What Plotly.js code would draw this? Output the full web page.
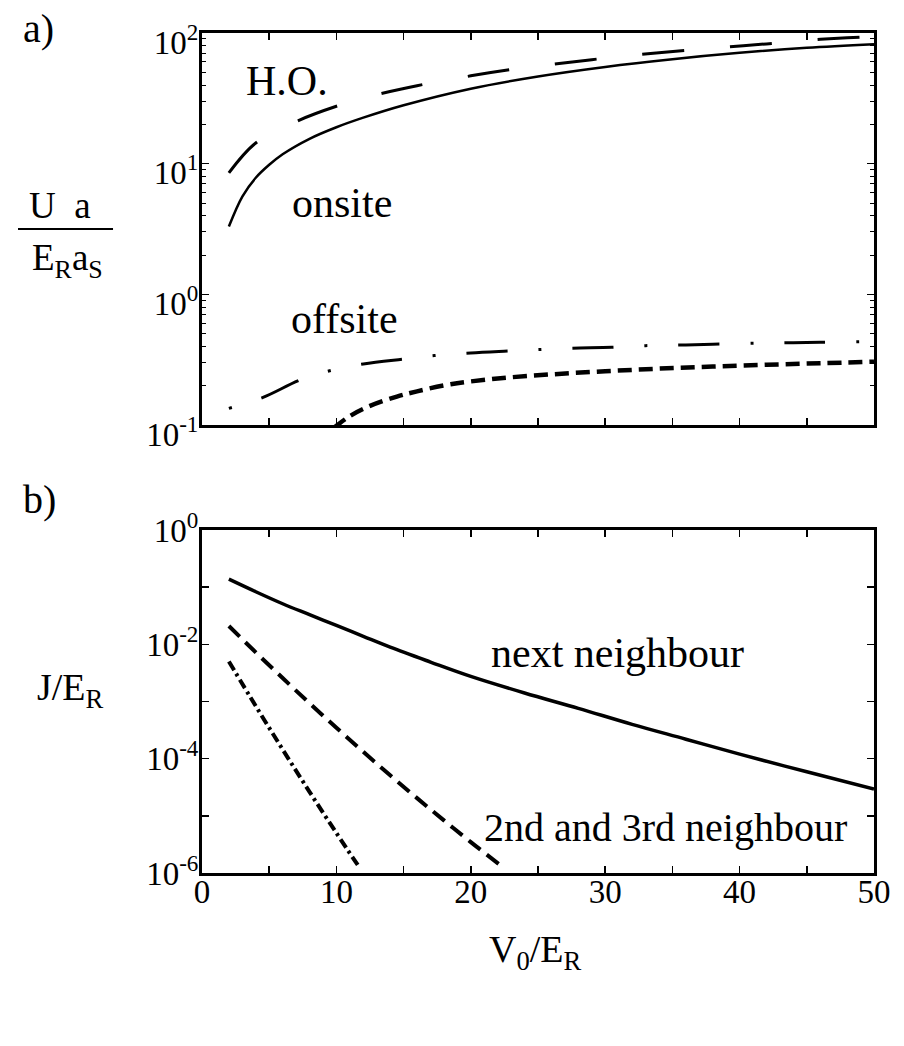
<!DOCTYPE html>
<html>
<head>
<meta charset="utf-8">
<script src="https://cdn.plot.ly/plotly-3.0.1.min.js"></script>
<style>
html,body{margin:0;padding:0;background:#fff;}
#chart{width:904px;height:1046px;}
</style>
</head>
<body>
<div id="chart"></div>
<script>
// ---------- data ----------
// panel a) interaction energies U a /(E_R a_s)
const V_onsite = [2, 3, 4, 5, 6, 8, 10, 12, 15, 20, 25, 30, 35, 40, 45, 50];
const U_onsite = [3.3, 5.6, 7.8, 9.8, 11.8, 15.5, 19.0, 22.5, 28, 37.5, 46.5, 55, 63, 70.5, 77, 82];

const V_ho = [2, 4, 7, 10, 13, 16, 20, 23, 26, 29, 32, 36, 39, 42, 45, 48, 50];
const U_ho = [8.5, 14.4, 21, 27.5, 33.7, 39.5, 47, 52.5, 57.5, 62.5, 67.5, 73.5, 78, 82.5, 88, 92, 94];

const V_offsiteA = [2, 4.5, 7.3, 9.5, 12, 15, 17.3, 20, 23, 25, 27.5, 30.5, 33, 36, 40, 43, 46, 50];
const U_offsiteA = [0.134, 0.162, 0.221, 0.26, 0.293, 0.32, 0.34, 0.356, 0.369, 0.378, 0.387, 0.393, 0.405, 0.41, 0.42, 0.425, 0.43, 0.435];

const V_offsiteB = [9.8, 11, 12.5, 14.5, 16, 18.5, 22, 26, 30, 34, 38, 42, 46, 50];
const U_offsiteB = [0.095, 0.117, 0.140, 0.165, 0.181, 0.205, 0.227, 0.244, 0.258, 0.270, 0.280, 0.289, 0.297, 0.305];

// panel b) tunnelling J/E_R
const V_J1 = [2, 4, 6, 8, 10, 12, 14, 17, 20, 24, 28, 32, 36, 40, 45, 50];
const J1 = [0.138, 0.0832, 0.0513, 0.0331, 0.0214, 0.0138, 0.00891, 0.00490, 0.00275, 0.00141, 0.000759, 0.000398, 0.000219, 0.000120, 5.89e-5, 2.95e-5];

const V_J2 = [2, 4, 6, 8, 10, 12, 14, 16, 18, 20, 22.4];
const J2 = [0.0209, 0.00724, 0.00257, 0.000933, 0.000347, 0.000132, 5.13e-5, 2.04e-5, 8.32e-6, 3.47e-6, 1.26e-6];

const V_J3 = [2, 4, 6, 8, 10, 11.7];
const J3 = [0.00501, 0.000832, 0.000145, 2.63e-5, 5.01e-6, 1.26e-6];

// tick labels
const xTickVals = [0, 10, 20, 30, 40, 50];
const xTickText = ['0', '10', '20', '30', '40', '50'];
const yaTickVals = [100, 10, 1, 0.1];
const yaTickText = ['10<sup>2</sup>', '10<sup>1</sup>', '10<sup>0</sup>', '10<sup>-1</sup>'];
const ybTickVals = [1, 0.1, 0.01, 0.001, 1e-4, 1e-5, 1e-6];
const ybTickText = ['10<sup>0</sup>', '', '10<sup>-2</sup>', '', '10<sup>-4</sup>', '', '10<sup>-6</sup>'];

// ---------- figure ----------
const FONT = '"Liberation Serif", "Times New Roman", Times, serif';
const K = '#000';

// minor log ticks for panel a (2..9 in each decade)
const minorA = [];
for (let e = -1; e < 2; e++) { for (let d = 2; d <= 9; d++) minorA.push(d * Math.pow(10, e)); }

const traces = [
  {x: V_onsite, y: U_onsite, xaxis: 'x2', yaxis: 'y2', mode: 'lines', line: {color: K, width: 2.5, shape: 'spline'}},
  {x: V_ho, y: U_ho, xaxis: 'x2', yaxis: 'y2', mode: 'lines', line: {color: K, width: 3, dash: '42px,46px', shape: 'spline'}},
  {x: V_offsiteA, y: U_offsiteA, xaxis: 'x2', yaxis: 'y2', mode: 'lines', line: {color: K, width: 3, dash: '3px,31px,41px,31px', shape: 'spline'}},
  {x: V_offsiteB, y: U_offsiteB, xaxis: 'x2', yaxis: 'y2', mode: 'lines', line: {color: K, width: 4.5, dash: '14px,7px', shape: 'spline'}},
  {x: V_J1, y: J1, xaxis: 'x', yaxis: 'y', mode: 'lines', line: {color: K, width: 3.5, shape: 'spline'}},
  {x: V_J2, y: J2, xaxis: 'x', yaxis: 'y', mode: 'lines', line: {color: K, width: 4, dash: '15px,8px', shape: 'spline'}},
  {x: V_J3, y: J3, xaxis: 'x', yaxis: 'y', mode: 'lines', line: {color: K, width: 4, dash: '10px,4px,3px,4px', shape: 'spline'}}
];

const axBase = {
  showline: true, linecolor: K, linewidth: 3, mirror: 'ticks',
  ticks: 'inside', ticklen: 7, tickwidth: 1.5, tickcolor: K,
  showgrid: false, zeroline: false,
  tickfont: {family: FONT, size: 33, color: K}
};

const layout = {
  width: 904, height: 1046,
  margin: {l: 202, r: 30, t: 33, b: 173},
  paper_bgcolor: '#fff', plot_bgcolor: '#fff',
  showlegend: false,
  font: {family: FONT, color: K},
  xaxis: Object.assign({}, axBase, {
    domain: [0, 1], range: [0, 50], anchor: 'y',
    tickmode: 'array', tickvals: xTickVals, ticktext: xTickText,
    minor: {dtick: 5, tick0: 0, ticks: 'inside', ticklen: 7, tickwidth: 1.5, tickcolor: K},
    ticklabelstandoff: -13
  }),
  xaxis2: Object.assign({}, axBase, {
    domain: [0, 1], range: [0, 50], anchor: 'y2', showticklabels: false,
    tickmode: 'linear', tick0: 0, dtick: 5
  }),
  yaxis: Object.assign({}, axBase, {
    domain: [0, 0.40833], type: 'log', range: [-6, 0], anchor: 'x',
    tickmode: 'array', tickvals: ybTickVals, ticktext: ybTickText,
    ticklabelstandoff: -6
  }),
  yaxis2: Object.assign({}, axBase, {
    domain: [0.53333, 1], type: 'log', range: [-1, 2], anchor: 'x2',
    tickmode: 'array', tickvals: yaTickVals, ticktext: yaTickText,
    minor: {tickmode: 'array', tickvals: minorA, ticks: 'inside', ticklen: 4, tickwidth: 1, tickcolor: K},
    ticklabelshift: 9, ticklabelstandoff: -6
  }),
  shapes: [
    {type: 'line', xref: 'paper', yref: 'paper', x0: -0.2738, x1: -0.1324, y0: 0.7667, y1: 0.7667, line: {color: K, width: 2}}
  ],
  annotations: [
    {text: 'a)', xref: 'paper', yref: 'paper', x: -0.2433, y: 1.0054},
    {text: 'b)', xref: 'paper', yref: 'paper', x: -0.2418, y: 0.4446},
    {text: 'U\u00a0\u00a0a', xref: 'paper', yref: 'paper', x: -0.2106, y: 0.7946, size: 37},
    {text: 'E<sub>R</sub>a<sub>S</sub>', xref: 'paper', yref: 'paper', x: -0.2001, y: 0.7286, size: 37},
    {text: 'J/E<sub>R</sub>', xref: 'paper', yref: 'paper', x: -0.1964, y: 0.2179, size: 38},
    {text: 'V<sub>0</sub>/E<sub>R</sub>', xref: 'paper', yref: 'paper', x: 0.497, y: -0.094, size: 38},
    {text: 'H.O.', xref: 'x2', yref: 'y2', x: 6.36, y: 1.634, size: 42},
    {text: 'onsite', xref: 'x2', yref: 'y2', x: 10.4, y: 0.701, size: 42},
    {text: 'offsite', xref: 'x2', yref: 'y2', x: 10.57, y: -0.187, size: 42},
    {text: 'next neighbour', xref: 'x', yref: 'y', x: 30.9, y: -2.143, size: 42},
    {text: '2nd and 3rd neighbour', xref: 'x', yref: 'y', x: 34.45, y: -5.204, size: 40}
  ].map(a => ({
    text: a.text, xref: a.xref, yref: a.yref, x: a.x, y: a.y,
    xanchor: 'center', yanchor: 'middle', showarrow: false,
    font: {family: FONT, size: a.size || 40, color: K}
  }))
};

Plotly.newPlot('chart', traces, layout, {staticPlot: true, displayModeBar: false});
</script>
</body>
</html>
